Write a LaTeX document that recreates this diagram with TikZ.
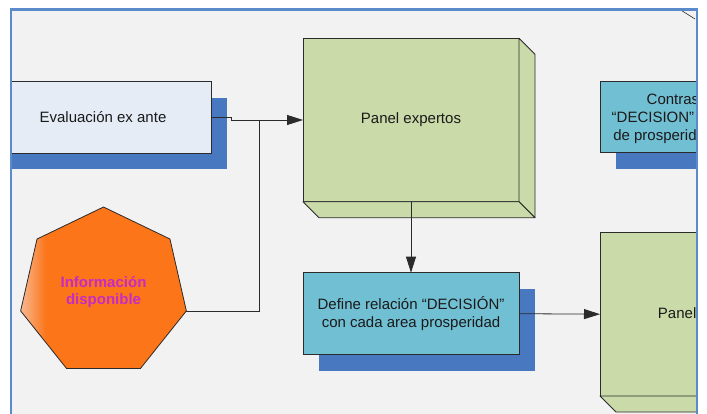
\documentclass[tikz,border=0pt]{standalone}
\usepackage{fontspec}
\setmainfont{Liberation Sans}
\usetikzlibrary{arrows.meta,shapes.geometric,shadows}

\definecolor{bgc}{HTML}{F2F2F2}
\definecolor{framec}{HTML}{5B8BCB}
\definecolor{evalc}{HTML}{E5ECF6}
\definecolor{shadowc}{HTML}{4878C0}
\definecolor{greenc}{HTML}{CADAA9}
\definecolor{tealc}{HTML}{71BFD3}
\definecolor{orangec}{HTML}{FC7519}
\definecolor{peachc}{HTML}{F6C0A0}
\definecolor{magc}{HTML}{C52BC6}
\definecolor{edgec}{HTML}{2B2B2B}
\definecolor{txtc}{HTML}{1A1A1A}

\tikzset{
  boxbase/.style={draw=edgec, line width=0.8pt, inner sep=0pt, outer sep=0pt,
    minimum width=216pt, text=txtc, align=center,
    font=\fontsize{15}{18.5}\selectfont},
  blueshadow/.style={general shadow={fill=shadowc, shadow xshift=16pt, shadow yshift=-16.5pt}},
  face/.style={draw=edgec, line width=0.8pt, fill=greenc, line join=round},
  conn/.style={draw=edgec, line width=0.8pt},
  arr/.style={conn, -{Triangle[length=16pt,width=10pt]}},
  linetext/.style={anchor=base west, inner sep=0pt, outer sep=0pt, text=txtc,
    font=\fontsize{15}{18.5}\selectfont},
}

\begin{document}
\begin{tikzpicture}[x=1pt,y=-1pt]
\useasboundingbox (0,0) rectangle (707,414);
\fill[white] (0,0) rectangle (707,414);
\fill[bgc] (11,9.5) rectangle (697,414);

\begin{scope}
\clip (11,9.5) rectangle (697,414);

% input box
\node[boxbase, blueshadow, fill=evalc, minimum height=71.3pt] (ev) at (103,117.3) {Evaluación ex ante};

% expert panel (3D block)
\node[boxbase, fill=greenc, minimum height=163.4pt] (pe) at (411,120) {Panel expertos};
\draw[face] (pe.north east) -- ([shift={(16,16)}]pe.north east) -- ([shift={(16,16)}]pe.south east) -- (pe.south east) -- cycle;
\draw[face] (pe.south west) -- ([shift={(16,16)}]pe.south west) -- ([shift={(16,16)}]pe.south east) -- (pe.south east) -- cycle;

% decision relation
\node[boxbase, blueshadow, fill=tealc, minimum height=82pt] (de) at (411,313.7)
  {Define relación “DECISIÓN”\\con cada area prosperidad};

% second panel
\node[boxbase, fill=greenc, minimum height=163.7pt] (p2) at (708,314.2) {Panel expertos};
\draw[face] (p2.south west) -- ([shift={(16,16)}]p2.south west) -- ([shift={(16,16)}]p2.south east) -- (p2.south east) -- cycle;

% contrast box
\node[boxbase, blueshadow, fill=tealc, minimum height=70.6pt] (co) at (708,117) {};
\node[linetext] (co1) at (646.7,104.6) {Contraste};
\node[linetext] (co2) at (611.7,122.6) {“DECISION” con};
\node[linetext] (co3) at (613.3,140.6) {de prosperidad};

% available information (heptagon)
\node[regular polygon, regular polygon sides=7, minimum size=170pt, inner sep=0pt, outer sep=0pt,
  fill=orangec, text=magc, align=center, font=\fontsize{15}{17.5}\selectfont\bfseries]
  (hp) at (103.5,292) {Información\\disponible};
\begin{scope}
  \clip (hp.corner 1) -- (hp.corner 2) -- (hp.corner 3) -- (hp.corner 4) -- (hp.corner 5) -- (hp.corner 6) -- (hp.corner 7) -- cycle;
  \shade[left color=peachc, right color=orangec] (18,200) rectangle (46,380);
\end{scope}
\draw[draw=edgec, line width=0.8pt, line join=round] (hp.corner 1) -- (hp.corner 2) -- (hp.corner 3) -- (hp.corner 4) -- (hp.corner 5) -- (hp.corner 6) -- (hp.corner 7) -- cycle;

% connectors
\coordinate (j1) at (231,117.3);
\coordinate (j2) at (259,120);
\draw[arr] (ev.east) -- (j1) |- (pe.west);
\draw[conn] (hp.corner 6) -| (j2);
\draw[arr] (pe.south) -- (de.north);
\draw[arr] (de.east) -- (p2.west);

% edge of a shape beyond the top right corner
\draw[draw=edgec, line width=0.6pt] (680.7,10) -- (695,19);
\end{scope}

% frame
\draw[framec, line width=2.2pt] (11,414) -- (11,9.5) -- (697,9.5) -- (697,414);
\end{tikzpicture}
\end{document}
